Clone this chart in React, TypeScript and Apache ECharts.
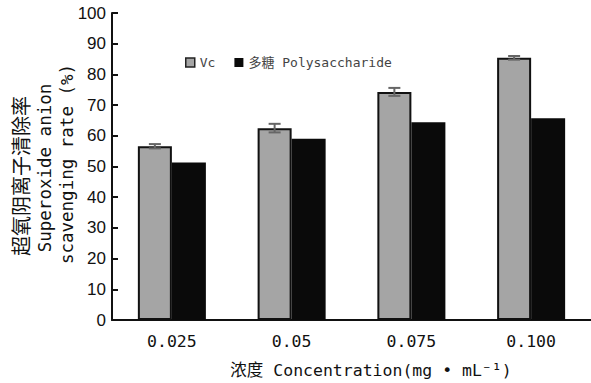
import React, { useEffect, useRef } from "react";
import * as echarts from "echarts";

const categories = ["0.025", "0.05", "0.075", "0.100"];
const vcValues = [56.6, 62.5, 74.3, 85.4];
const vcErrors = [0.7, 1.4, 1.3, 0.6];
const polyValues = [51.3, 59.0, 64.4, 65.7];
const yTicks = { min: 0, max: 100, interval: 10 };
const seriesNames = ["Vc", "多糖 Polysaccharide"];
const yNameLines = ["超氧阴离子清除率", "Superoxide anion", "scavenging rate (%)"];
const xName = "浓度 Concentration(mg • mL⁻¹)";

const MONO = "'DejaVu Sans Mono', 'Noto Sans CJK SC', monospace";
const SANS = "'Liberation Sans', Arial, sans-serif";
const BAR_FRAC = 0.284;

export default function App() {
  const ref = useRef<HTMLDivElement>(null);
  useEffect(() => {
    if (!ref.current) return;
    const chart = echarts.init(ref.current, null, { renderer: "svg" });
    chart.setOption({
      animation: false,
      backgroundColor: "#ffffff",
      grid: { left: 112, right: 0, top: 13, bottom: 63, containLabel: false, outerBoundsMode: "none" },
      legend: {
        left: 180,
        top: 51,
        itemWidth: 9,
        itemHeight: 9,
        itemGap: 19,
        icon: "rect",
        textStyle: { fontFamily: MONO, fontSize: 13, color: "#444" },
        data: [
          { name: seriesNames[0], itemStyle: { color: "#a5a5a5", borderColor: "#222", borderWidth: 1.5 } },
          { name: seriesNames[1], itemStyle: { color: "#0a0a0a", borderWidth: 0 } },
        ],
      },
      xAxis: {
        type: "category",
        data: categories,
        axisLine: { lineStyle: { color: "#111", width: 2 } },
        axisTick: { inside: true, length: 5, lineStyle: { color: "#111", width: 2 } },
        axisLabel: { fontFamily: MONO, fontSize: 16.5, color: "#111", margin: 13 },
      },
      yAxis: {
        type: "value",
        min: yTicks.min,
        max: yTicks.max,
        interval: yTicks.interval,
        splitLine: { show: false },
        axisLine: { show: true, lineStyle: { color: "#111", width: 2 } },
        axisTick: { show: true, inside: true, length: 6, lineStyle: { color: "#111", width: 2 } },
        axisLabel: { fontFamily: SANS, fontSize: 17, color: "#111", margin: 6 },
      },
      graphic: [
        {
          type: "text",
          x: 371,
          y: 370,
          style: { text: xName, font: `16.5px ${MONO}`, fill: "#111", align: "center", verticalAlign: "middle" },
        },
        {
          type: "text",
          x: 20,
          y: 176,
          rotation: Math.PI / 2,
          style: { text: yNameLines[0], font: `20px 'Noto Sans CJK SC'`, fill: "#111", align: "center", verticalAlign: "middle" },
        },
        {
          type: "text",
          x: 45,
          y: 168,
          rotation: Math.PI / 2,
          style: { text: yNameLines[1], font: `17.5px ${MONO}`, fill: "#111", align: "center", verticalAlign: "middle" },
        },
        {
          type: "text",
          x: 67,
          y: 164,
          rotation: Math.PI / 2,
          style: { text: yNameLines[2], font: `17.5px ${MONO}`, fill: "#111", align: "center", verticalAlign: "middle" },
        },
      ],
      series: [
        {
          name: seriesNames[0],
          type: "bar",
          data: vcValues,
          barWidth: `${BAR_FRAC * 100}%`,
          barGap: "0%",
          itemStyle: { color: "#a5a5a5", borderColor: "#111", borderWidth: 2 },
        },
        {
          name: seriesNames[1],
          type: "bar",
          data: polyValues,
          barWidth: `${BAR_FRAC * 100}%`,
          barGap: "0%",
          itemStyle: { color: "#0a0a0a" },
        },
        {
          type: "custom",
          name: "err",
          z: 5,
          data: vcValues.map((v, i) => [i, v, vcErrors[i]]),
          encode: { x: 0, y: 1 },
          renderItem: (params: any, api: any) => {
            const i = api.value(0);
            const v = api.value(1);
            const e = api.value(2);
            const band = api.size([1, 0])[0];
            const bw = band * BAR_FRAC;
            const c = api.coord([i, v]);
            const x = c[0] - bw / 2;
            const hi = api.coord([i, v + e])[1];
            const lo = api.coord([i, v - e])[1];
            const style = { stroke: "#666", lineWidth: 2 };
            return {
              type: "group",
              children: [
                { type: "line", shape: { x1: x, y1: hi, x2: x, y2: lo }, style },
                { type: "line", shape: { x1: x - 6, y1: hi, x2: x + 6, y2: hi }, style },
                { type: "line", shape: { x1: x - 6, y1: lo, x2: x + 6, y2: lo }, style },
              ],
            };
          },
        },
      ],
    });
    return () => chart.dispose();
  }, []);
  return <div ref={ref} style={{ position: "absolute", left: 0, top: 0, width: 591, height: 383 }} />;
}
